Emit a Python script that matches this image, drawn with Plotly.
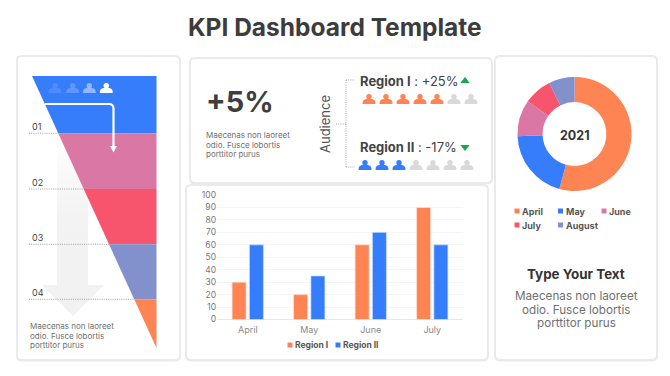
import plotly.graph_objects as go

W, H = 670, 376
FONT = "Inter"
ORANGE, BLUE, PINK, RED, PERI = "#FF8454", "#367DFB", "#DB77A4", "#F6556D", "#8290CC"

months = ["April", "May", "June", "July"]
region1 = [30, 20, 60, 90]
region2 = [60, 35, 70, 60]
bar_ticks = [0, 10, 20, 30, 40, 50, 60, 70, 80, 90, 100]

pie_labels = ["April", "May", "June", "July", "August"]
pie_values = [54.3, 20.1, 10.3, 8.0, 7.3]
pie_colors = [ORANGE, BLUE, PINK, RED, PERI]

stage_edges = [76, 133.3, 189, 244.3, 299.3, 348]
stage_colors = [BLUE, PINK, RED, PERI, ORANGE]
stage_labels = ["01", "02", "03", "04"]

people_total = 7
region1_filled = 5
region2_filled = 3
body_lines = ["Maecenas non laoreet", "odio. Fusce lobortis", "porttitor purus"]


def px(x):
    return x / W


def py(y):
    return 1 - y / H


def rr(x0, y0, x1, y1, r=4):
    return (f"M{px(x0+r)},{py(y0)} L{px(x1-r)},{py(y0)} Q{px(x1)},{py(y0)} {px(x1)},{py(y0+r)} "
            f"L{px(x1)},{py(y1-r)} Q{px(x1)},{py(y1)} {px(x1-r)},{py(y1)} L{px(x0+r)},{py(y1)} "
            f"Q{px(x0)},{py(y1)} {px(x0)},{py(y1-r)} L{px(x0)},{py(y0+r)} Q{px(x0)},{py(y0)} {px(x0+r)},{py(y0)} Z")


shapes = []
annos = []


def card(x0, y0, x1, y1):
    shapes.append(dict(type="path", xref="paper", yref="paper", layer="below", path=rr(x0-2, y0-2, x1+2, y1+2.5, 6),
                       fillcolor="#EAEAEA", line_width=0))
    shapes.append(dict(type="path", xref="paper", yref="paper", layer="below", path=rr(x0, y0, x1, y1, 4),
                       fillcolor="#FFFFFF", line_width=0))


def person(cx, cy, color, opacity=1.0, s=1.0):
    # head and shoulders icon, centred on (cx, cy)
    head = 2.7 * s
    hy = cy - 2.2 * s
    shapes.append(dict(type="circle", xref="paper", yref="paper", layer="above",
                       x0=px(cx-head), x1=px(cx+head), y0=py(hy+head), y1=py(hy-head),
                       fillcolor=color, opacity=opacity, line_width=0))
    body = (f"M{px(cx-6.4*s)},{py(cy+5*s)} L{px(cx-6.4*s)},{py(cy+3*s)} Q{px(cx-6*s)},{py(cy+0.6*s)} {px(cx-3*s)},{py(cy)} "
            f"L{px(cx+3*s)},{py(cy)} Q{px(cx+6*s)},{py(cy+0.6*s)} {px(cx+6.4*s)},{py(cy+3*s)} L{px(cx+6.4*s)},{py(cy+5*s)} Z")
    shapes.append(dict(type="path", xref="paper", yref="paper", layer="above", path=body,
                       fillcolor=color, opacity=opacity, line_width=0))


def text(x, y, t, size=9, color="#666666", anchor="left", **kw):
    annos.append(dict(x=px(x), y=py(y), xref="paper", yref="paper", text=t, showarrow=False, xanchor=anchor,
                      yanchor="middle", align=anchor, borderpad=0,
                      font=dict(family=FONT, size=size, color=color), **kw))


def dotted(x0, y0, x1, y1, color="#8A8A8A"):
    shapes.append(dict(type="line", xref="paper", yref="paper", layer="above",
                       x0=px(x0), y0=py(y0), x1=px(x1), y1=py(y1), line=dict(color=color, width=0.8, dash="1px,1.2px")))


card(18, 57, 179, 359)
card(191, 59, 491, 182)
card(187, 186, 487, 359)
card(496, 57, 656, 359)

fig = go.Figure()

# bar chart
fig.add_bar(x=months, y=region1, name="Region I", marker=dict(color=ORANGE, line=dict(color="#FFE3D8", width=0.7)),
            showlegend=False)
fig.add_bar(x=months, y=region2, name="Region II", marker=dict(color=BLUE, line=dict(color="#CFE0FE", width=0.7)),
            showlegend=False)

# funnel: the pale arrow behind, then stacked bands
fig.add_scatter(x=[57, 88, 88, 104, 73, 42, 57, 57], y=[133, 133, 285, 285, 316, 285, 285, 133],
                xaxis="x3", yaxis="y3", mode="lines", line=dict(width=0), fill="toself",
                fillgradient=dict(type="vertical", colorscale=[[0, "#F1F1F1"], [0.55, "#F3F3F3"], [1, "#FFFFFF"]]),
                hoverinfo="skip", showlegend=False)
tx0, ty0, tx1, ty1 = 32, stage_edges[0], 156.5, stage_edges[-1]


def left(y):
    return tx0 + (y - ty0) * (tx1 - tx0) / (ty1 - ty0)


for i, c in enumerate(stage_colors):
    a, b = stage_edges[i], stage_edges[i + 1]
    fig.add_scatter(x=[left(a), tx1, tx1, left(b), left(a)], y=[a, a, b, b, a], xaxis="x3", yaxis="y3",
                    mode="lines", line=dict(width=0), fill="toself", fillcolor=c, hoverinfo="skip", showlegend=False)

# donut
fig.add_pie(labels=pie_labels, values=pie_values, hole=0.56, sort=False, direction="clockwise", rotation=0,
            marker=dict(colors=pie_colors, line=dict(color="#FFFFFF", width=0)), textinfo="none", showlegend=False,
            domain=dict(x=[px(517.5), px(631.5)], y=[py(191), py(77)]))

# white elbow arrow on the funnel
shapes.append(dict(type="path", xref="paper", yref="paper", layer="above",
                   path=f"M{px(45)},{py(104)} L{px(109)},{py(104)} Q{px(113.5)},{py(104)} {px(113.5)},{py(108.5)} L{px(113.5)},{py(148)}",
                   line=dict(color="#FFFFFF", width=2.2), fillcolor="rgba(0,0,0,0)"))
shapes.append(dict(type="path", xref="paper", yref="paper", layer="above",
                   path=f"M{px(110)},{py(146)} L{px(117)},{py(146)} L{px(113.5)},{py(152.5)} Z",
                   fillcolor="#FFFFFF", line_width=0))

for x, op in zip([55, 72.7, 89.3, 106.3], [0.12, 0.2, 0.45, 1]):
    person(x, 88, "#FFFFFF", op)

for lab, y in zip(stage_labels, stage_edges[1:5]):
    dotted(29, y, left(y), y)
    text(30.5, y - 7, lab, size=9, color="#3F3F3F")
for ln, y in zip(body_lines, [326, 335.7, 345.4]):
    text(29, y, ln, size=8, color="#707070")

# KPI card
text(204.5, 102, "<b>+5%</b>", size=29, color="#3E3E3E")
for ln, y in zip(body_lines, [135, 144.7, 154.4]):
    text(205, y, ln, size=8, color="#707070")
text(325, 124, "Audience", size=13, color="#555555", anchor="center", textangle=-90)
dotted(346, 80, 346, 167)
dotted(346, 80, 355, 80)
dotted(346, 167, 355, 167)
dotted(336, 124, 346, 124)
text(358.5, 81, "<b>Region I</b> : +25%", size=13, color="#444444")
text(358.5, 147, "<b>Region II</b> : -17%", size=13, color="#444444")
for i in range(people_total):
    person(369 + 17 * i, 99, ORANGE if i < region1_filled else "#D9D9D9")
    person(365 + 17 * i, 165, BLUE if i < region2_filled else "#D9D9D9")
fig.add_scatter(x=[465, 465], y=[81, 147], xaxis="x3", yaxis="y3", mode="markers", hoverinfo="skip", showlegend=False,
                marker=dict(symbol=["triangle-up", "triangle-down"], size=8, color="#12A84F"))

# custom legends (swatch hugging its label, as in the reference)
fig.add_scatter(x=[290, 338], y=[345, 345], xaxis="x3", yaxis="y3", mode="markers", hoverinfo="skip", showlegend=False,
                marker=dict(symbol="square", size=5, color=[ORANGE, BLUE]))
text(294, 345, "<b>Region I</b>", size=8.5, color="#555555")
text(342, 345, "<b>Region II</b>", size=8.5, color="#555555")
leg_x = [517, 560.5, 604, 517, 560.5]
leg_y = [211, 211, 211, 225, 225]
fig.add_scatter(x=leg_x, y=leg_y, xaxis="x3", yaxis="y3", mode="markers", hoverinfo="skip", showlegend=False,
                marker=dict(symbol="square", size=5, color=pie_colors))
for lab, x, y in zip(pie_labels, leg_x, leg_y):
    text(x + 4, y, f"<b>{lab}</b>", size=9, color="#555555")

# right card
text(574.5, 135, "<b>2021</b>", size=12.5, color="#333333", anchor="center")
text(576, 273.5, "<b>Type Your Text</b>", size=13.4, color="#333333", anchor="center")
for ln, y in zip(body_lines, [296, 309.5, 323]):
    text(576, y, ln, size=11.7, color="#707070", anchor="center")

text(335, 27, "<b>KPI Dashboard Template</b>", size=24.5, color="#3C3C3C", anchor="center")

fig.update_layout(
    width=W, height=H, margin=dict(l=0, r=0, t=0, b=0, autoexpand=False), paper_bgcolor="#FFFFFF",
    plot_bgcolor="rgba(0,0,0,0)",
    showlegend=False, barmode="group", bargap=0.437, bargroupgap=0.19,
    font=dict(family=FONT, color="#777777"), shapes=shapes, annotations=annos,
    xaxis=dict(domain=[px(217), px(463)], anchor="y", showgrid=False, showline=False, zeroline=False,
               tickfont=dict(size=9, color="#8A8A8A"), ticks="", ticklabelstandoff=3),
    yaxis=dict(domain=[py(319.5), py(195)], anchor="x", range=[0, 100], tickvals=bar_ticks, gridcolor="#F5F5F5",
               gridwidth=1, zeroline=True, zerolinecolor="#E8E8E8", zerolinewidth=1, showline=False,
               tickfont=dict(size=8.5, color="#777777"), ticks=""),
    xaxis3=dict(domain=[0, 1], range=[0, W], visible=False, anchor="y3", fixedrange=True),
    yaxis3=dict(domain=[0, 1], range=[H, 0], visible=False, anchor="x3", fixedrange=True),
)

fig.write_html("out.html", config=dict(displayModeBar=False), post_script="document.body.style.margin='0';")
